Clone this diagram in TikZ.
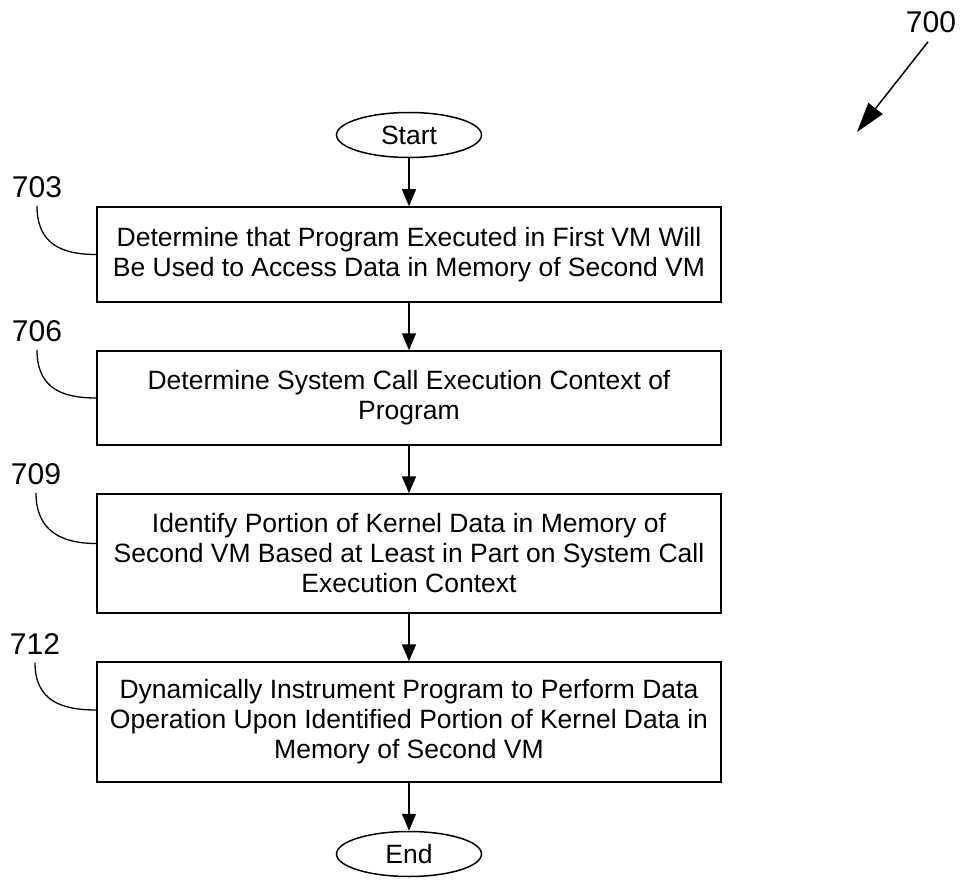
\documentclass[tikz,border=0pt]{standalone}
\usepackage{fontspec}
\setmainfont{Liberation Sans}
\usetikzlibrary{shapes.geometric,arrows.meta}
\begin{document}
\begin{tikzpicture}[x=1pt,y=-1pt,
  every node/.style={font=\fontsize{26.5}{30}\selectfont},
  stepbox/.style={draw,line width=1.5pt,minimum width=624pt,align=center,inner sep=0pt,anchor=center},
  term/.style={draw,ellipse,line width=1.5pt,minimum width=145pt,minimum height=45pt,inner sep=0pt},
  lbl/.style={font=\fontsize{30}{34}\selectfont,inner sep=0pt},
  flow/.style={line width=1.5pt,-{Triangle[length=17pt,width=14pt]}},
  lead/.style={line width=1.3pt}]
\useasboundingbox (0,0) rectangle (962,880);
\node[term] (start) at (409,135) {Start};
\node[stepbox,minimum height=95pt] (b703) at (409,254.5) {Determine that Program Executed in First VM Will\\Be Used to Access Data in Memory of Second VM};
\node[stepbox,minimum height=94pt] (b706) at (409,398) {Determine System Call Execution Context of\\Program};
\node[stepbox,minimum height=119pt] (b709) at (409,553.5) {Identify Portion of Kernel Data in Memory of\\Second VM Based at Least in Part on System Call\\Execution Context};
\node[stepbox,minimum height=120pt] (b712) at (409,722) {Dynamically Instrument Program to Perform Data\\Operation Upon Identified Portion of Kernel Data in\\Memory of Second VM};
\node[term] (end) at (409,854) {End};
\draw[flow] (start) -- (b703);
\draw[flow] (b703) -- (b706);
\draw[flow] (b706) -- (b709);
\draw[flow] (b709) -- (b712);
\draw[flow] (b712) -- (end);
\node[lbl] (L703) at (37,187) {703};
\node[lbl] (L706) at (37,331) {706};
\node[lbl] (L709) at (36,474) {709};
\node[lbl] (L712) at (35,644) {712};
\draw[lead] ([yshift=-8pt]L703.south) .. controls +(0,38) and +(-35,0) .. (b703.west);
\draw[lead] ([yshift=-8pt]L706.south) .. controls +(0,38) and +(-35,0) .. (b706.west);
\draw[lead] ([yshift=-8pt]L709.south) .. controls +(0,38) and +(-35,0) .. ([yshift=10pt]b709.west);
\draw[lead] ([yshift=-8pt]L712.south) .. controls +(0,38) and +(-35,0) .. ([yshift=12pt]b712.west);
\node[lbl] (L700) at (931,22) {700};
\coordinate (p700) at (857,132);
\draw[line width=1.5pt,-{Triangle[length=30pt,width=18pt]}] ([xshift=-3pt,yshift=-9pt]L700.south) -- (p700);
\end{tikzpicture}
\end{document}
